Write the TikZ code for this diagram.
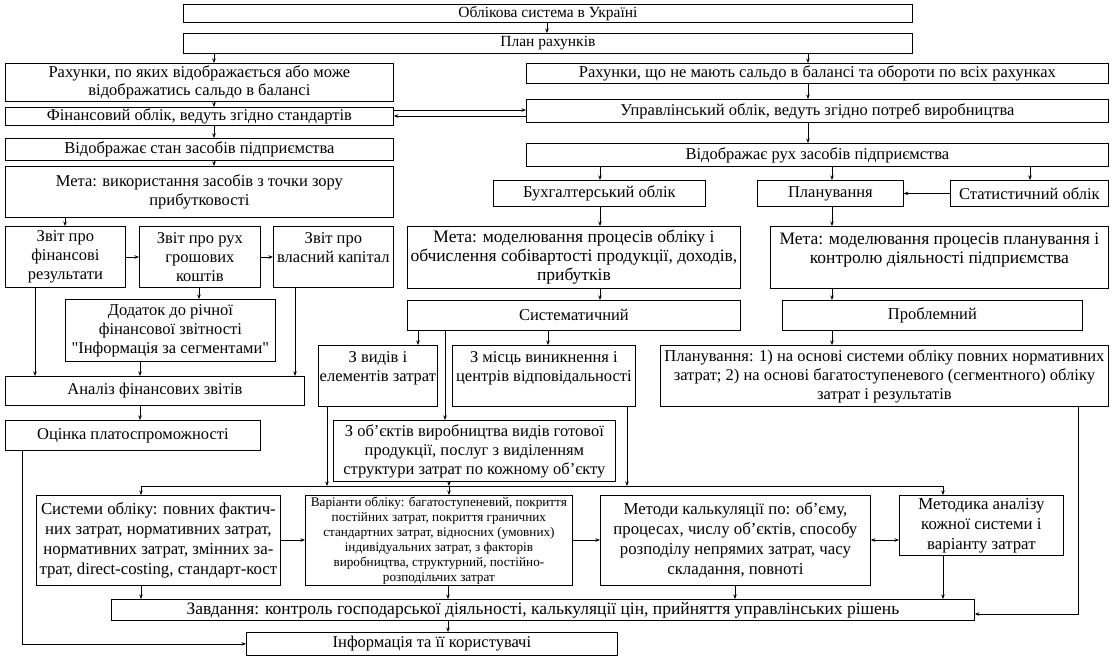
\documentclass[tikz,border=0pt]{standalone}
\usepackage{fontspec}
\setmainfont{Liberation Serif}
\newfontfamily\qfont{Liberation Serif}
\usetikzlibrary{arrows.meta}
\newcommand\bx[7]{\node[box,#1,minimum width={(#5-#3)*1pt},minimum height={(#6-#4)*1pt},anchor=north west] (#2) at (#3,#4) {#7};}
\newcommand\fs[2]{\fontsize{#1}{#2}\selectfont}
\newcommand\sq{{\qfont"}}
\begin{document}
\begin{tikzpicture}[x=1pt,y=-1pt,
  box/.style={draw,line width=0.8pt,inner sep=0.5pt,align=center,font=\fs{16.5}{19}},
  topf/.style={font=\fs{15.5}{18}},
  two/.style={font=\fs{16.5}{18}},
  meta/.style={font=\fs{17.5}{19}},
  big/.style={font=\fs{16.8}{20}},
  small/.style={font=\fs{13.2}{15}},
  arr/.style={-{Stealth[length=4.5pt,width=3.5pt]},line width=0.7pt},
  dbl/.style={{Stealth[length=4.5pt,width=3.5pt]}-{Stealth[length=4.5pt,width=3.5pt]},line width=0.7pt}]
\useasboundingbox[fill=white] (0,0) rectangle (1112,658);
% top
\bx{topf}{T1}{183}{4}{912}{22}{Облікова система в Україні}
\bx{topf}{T2}{183}{33}{912}{53}{План рахунків}
% left column
\bx{two}{A}{5}{63}{393}{101}{Рахунки, по яких відображається або може\\відображатись сальдо в балансі}
\bx{}{B}{5}{107}{393}{125}{Фінансовий облік, ведуть згідно стандартів}
\bx{}{C}{5}{138}{393}{160}{Відображає стан засобів підприємства}
\bx{}{D}{5}{166}{393}{217}{Мета: використання засобів з точки зору\\прибутковості}
\bx{}{E1}{5}{226}{125}{287}{Звіт про\\фінансові\\результати}
\bx{}{E2}{139}{226}{260}{287}{Звіт про рух\\грошових\\коштів}
\bx{}{E3}{273}{226}{393}{287}{Звіт про\\власний капітал\\\mbox{}}
\bx{}{F}{65}{299}{275}{361}{Додаток до річної\\фінансової звітності\\\sq Інформація за сегментами\sq}
\bx{}{G}{5}{376}{304}{405}{Аналіз фінансових звітів}
\bx{}{H}{5}{420}{260}{450}{Оцінка платоспроможності}
% right column
\bx{}{R1}{526}{63}{1108}{83}{Рахунки, що не мають сальдо в балансі та обороти по всіх рахунках}
\bx{}{R2}{526}{99}{1108}{122}{Управлінський облік, ведуть згідно потреб виробництва}
\bx{}{R3}{526}{143}{1108}{166}{Відображає рух засобів підприємства}
\bx{}{BU}{493}{180}{705}{206}{Бухгалтерський облік}
\bx{}{PN}{757}{180}{903}{206}{Планування}
\bx{}{ST}{950}{180}{1108}{206}{Статистичний облік}
\bx{meta}{M1}{407}{226}{740}{288}{Мета: моделювання процесів обліку і\\обчислення собівартості продукції, доходів,\\прибутків}
\bx{meta}{M2}{770}{226}{1108}{288}{Мета: моделювання процесів планування і\\контролю діяльності підприємства\\\mbox{}}
\bx{}{SY}{407}{300}{740}{330}{Систематичний}
\bx{}{PR}{782}{300}{1082}{330}{Проблемний}
\bx{}{ZV}{318}{345}{437}{406}{З видів і\\елементів затрат\\\mbox{}}
\bx{}{ZM}{452}{345}{635}{406}{З місць виникнення і\\центрів відповідальності\\\mbox{}}
\bx{}{PL}{660}{345}{1108}{406}{Планування: 1) на основі системи обліку повних нормативних\\затрат; 2) на основі багатоступеневого (сегментного) обліку\\затрат і результатів}
\bx{}{ZO}{333}{420}{615}{481}{З об’єктів виробництва видів готової\\продукції, послуг з виділенням\\структури затрат по кожному об’єкту}
% bottom row
\bx{big}{SS}{36}{495}{280}{585}{Системи обліку: повних фактич-\\них затрат, нормативних затрат,\\нормативних затрат, змінних за-\\трат, direct-costing, стандарт-кост}
\bx{small}{VA}{305}{495}{572}{585}{Варіанти обліку: багатоступеневий, покриття\\постійних затрат, покриття граничних\\стандартних затрат, відносних (умовних)\\індивідуальних затрат, з факторів\\виробництва, структурний, постійно-\\розподільчих затрат}
\bx{big}{MK}{600}{495}{870}{585}{Методи калькуляції по: об’єму,\\процесах, числу об’єктів, способу\\розподілу непрямих затрат, часу\\складання, повноті}
\bx{big}{MA}{899}{495}{1063}{555}{Методика аналізу\\кожної системи і\\варіанту затрат}
\bx{meta}{ZA}{111}{599}{974}{620}{Завдання: контроль господарської діяльності, калькуляції цін, прийняття управлінських рішень}
\bx{}{IN}{246}{632}{617}{655}{Інформація та її користувачі}
% connectors: top
\draw[arr] (T1.south -| 547,0) -- (T2.north -| 547,0);
\draw[arr] (T2.south -| 214,0) -- (A.north -| 214,0);
\draw[arr] (T2.south -| 808,0) -- (R1.north -| 808,0);
\draw[arr] (A.south -| 214,0) -- (B.north -| 214,0);
\draw[arr] (B.south -| 214,0) -- (C.north -| 214,0);
\draw[arr] (C.south -| 214,0) -- (D.north -| 214,0);
\draw[arr] (B.east |- 0,110) -- (R2.west |- 0,110);
\draw[arr] (R2.west |- 0,116) -- (B.east |- 0,116);
\draw[arr] (R1.south -| 808,0) -- (R2.north -| 808,0);
\draw[arr] (R2.south -| 808,0) -- (R3.north -| 808,0);
\draw[arr] (R3.south -| 600,0) -- (BU.north -| 600,0);
\draw[arr] (R3.south -| 832,0) -- (PN.north -| 832,0);
\draw[arr] (R3.south -| 1030,0) -- (ST.north -| 1030,0);
\draw[arr] (ST.west) -- (PN.east);
\draw[arr] (BU.south -| 600,0) -- (M1.north -| 600,0);
\draw[arr] (PN.south -| 832,0) -- (M2.north -| 832,0);
\draw[arr] (M1.south -| 600,0) -- (SY.north -| 600,0);
\draw[arr] (M2.south -| 832,0) -- (PR.north -| 832,0);
\draw[arr] (PR.south -| 832,0) -- (PL.north -| 832,0);
\draw[arr] (SY.south -| 418,0) -- (ZV.north -| 418,0);
\draw[arr] (SY.south -| 445,0) -- (ZO.north -| 445,0);
\draw[arr] (SY.south -| 548,0) -- (ZM.north -| 548,0);
% left reports
\draw[arr] (D.south -| 65,0) -- (E1.north -| 65,0);
\draw[arr] (E1.east |- 0,257) -- (E2.west |- 0,257);
\draw[arr] (E2.east |- 0,257) -- (E3.west |- 0,257);
\draw[arr] (E2.south -| 199,0) -- (F.north -| 199,0);
\draw[arr] (E1.south -| 35,0) -- (G.north -| 35,0);
\draw[arr] (F.south -| 140,0) -- (G.north -| 140,0);
\draw[arr] (E3.south -| 295,0) -- (G.north -| 295,0);
\draw[arr] (G.south -| 140,0) -- (H.north -| 140,0);
\draw[arr] (H.south -| 22,0) |- (IN.west);
% bus
\coordinate (busA) at (141,486);
\coordinate (busB) at (943,486);
\draw[arr] (busA) -- (SS.north -| busA);
\draw[arr] (busA) -- (busB) -- (MA.north -| busB);
\draw[arr] (ZV.south -| 327,0) -- (busA -| 327,0);
\draw[arr] (ZO.south -| 449,0) -- (busA -| 449,0);
\draw[arr] (ZM.south -| 627,0) -- (busA -| 627,0);
\draw[arr] (busA -| 449,0) -- (VA.north -| 449,0);
% bottom row
\draw[arr] (SS.east |- 0,540) -- (VA.west |- 0,540);
\draw[arr] (VA.east |- 0,540) -- (MK.west |- 0,540);
\draw[dbl] (MK.east |- 0,540) -- (MA.west |- 0,540);
\draw[arr] (SS.south -| 141,0) -- (ZA.north -| 141,0);
\draw[arr] (VA.south -| 448,0) -- (ZA.north -| 448,0);
\draw[arr] (MK.south -| 735,0) -- (ZA.north -| 735,0);
\draw[arr] (MA.south -| 943,0) -- (ZA.north -| 943,0);
\draw[arr] (PL.south -| 1078,0) |- (ZA.east |- 0,614);
\draw[arr] (ZA.south -| 448,0) -- (IN.north -| 448,0);
\end{tikzpicture}
\end{document}
